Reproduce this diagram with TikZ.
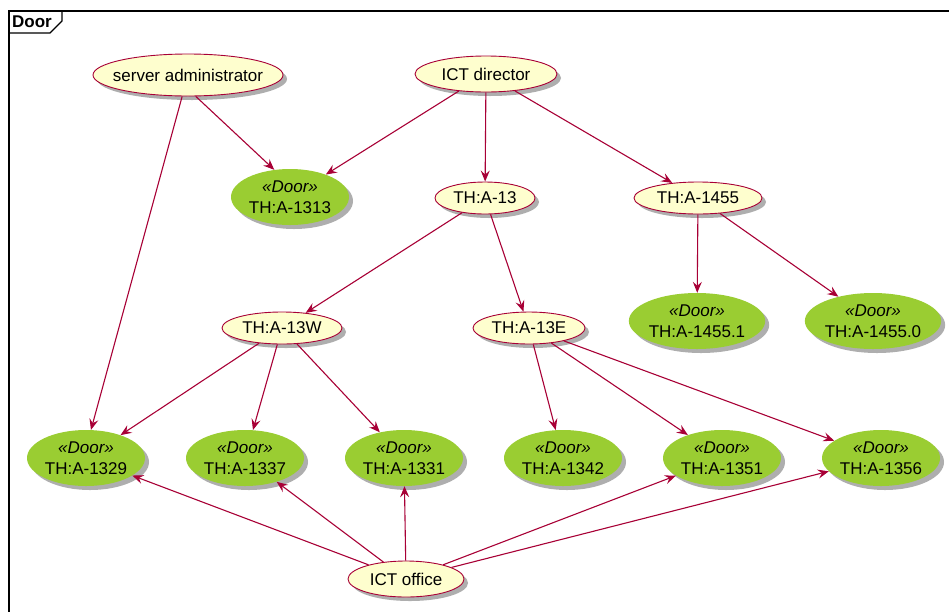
\documentclass[tikz,border=0pt]{standalone}
\usepackage{fontspec}
\setmainfont{Liberation Sans}
\usetikzlibrary{shapes.geometric,shadows,arrows.meta}
\definecolor{pred}{HTML}{A80036}
\definecolor{pyel}{HTML}{FEFECE}
\definecolor{pgreen}{HTML}{9ACD32}
\tikzset{
  shad/.style={drop shadow={shadow xshift=4pt,shadow yshift=-4pt,opacity=0.45,fill=black!70}},
  actor/.style={ellipse,draw=pred,line width=0.9pt,fill=pyel,inner sep=0pt,minimum height=36pt,font=\fontsize{17}{20}\selectfont,shad},
  door/.style={ellipse,fill=pgreen,inner sep=0pt,minimum width=118pt,minimum height=56pt,align=center,font=\fontsize{17}{21}\selectfont,shad},
  conn/.style={draw=pred,line width=1.1pt,-{Stealth[length=11pt,width=9pt,inset=4pt]}}
}
\newcommand{\dlab}[1]{{\itshape\guillemotleft Door\guillemotright}\\#1}
\begin{document}
\begin{tikzpicture}[x=1pt,y=-1pt]
\useasboundingbox (0,0) rectangle (949,611);
\fill[white] (0,0) rectangle (949,611);
% frame
\draw[line width=1.6pt] (9,620) -- (9,11) -- (960,11);
\draw[line width=1.2pt] (9,33) -- (50,33) -- (62,21) -- (62,11);
\node[anchor=west,font=\bfseries\fontsize{17}{20}\selectfont,inner sep=0pt] (flab) at (12,22) {Door};
% actors
\node[actor,minimum width=190pt,minimum height=42pt,inner xsep=-9pt] (sa) at (188,75) {server administrator};
\node[actor,minimum width=142pt] (dir) at (486,74) {ICT director};
\node[actor,minimum width=100pt,minimum height=32pt] (a13) at (485,198) {TH:A-13};
\node[actor,minimum width=128pt,minimum height=32pt] (a1455) at (698,198) {TH:A-1455};
\node[actor,minimum width=120pt,minimum height=32pt] (a13w) at (282,328) {TH:A-13W};
\node[actor,minimum width=112pt,minimum height=32pt] (a13e) at (529,328) {TH:A-13E};
\node[actor,minimum width=116pt] (off) at (406,579) {ICT office};
% doors
\node[door] (d1313) at (290,197) {\dlab{TH:A-1313}};
\node[door,minimum width=136pt] (d14551) at (697,321) {\dlab{TH:A-1455.1}};
\node[door,minimum width=136pt] (d14550) at (873,321) {\dlab{TH:A-1455.0}};
\node[door] (d1329) at (86,458) {\dlab{TH:A-1329}};
\node[door] (d1337) at (245,458) {\dlab{TH:A-1337}};
\node[door] (d1331) at (404,458) {\dlab{TH:A-1331}};
\node[door] (d1342) at (563,458) {\dlab{TH:A-1342}};
\node[door] (d1351) at (722,458) {\dlab{TH:A-1351}};
\node[door] (d1356) at (881,458) {\dlab{TH:A-1356}};
% connectors
\draw[conn] (sa) -- (d1329.80);
\draw[conn] (sa.-70) -- (d1313.120);
\draw[conn] (dir) -- (d1313);
\draw[conn] (dir) -- (a13);
\draw[conn] (dir) -- (a1455);
\draw[conn] (a13) -- (a13w);
\draw[conn] (a13) -- (a13e);
\draw[conn] (a1455) -- (d14551);
\draw[conn] (a1455) -- (d14550);
\draw[conn] (a13w) -- (d1329);
\draw[conn] (a13w) -- (d1337);
\draw[conn] (a13w) -- (d1331);
\draw[conn] (a13e) -- (d1342);
\draw[conn] (a13e) -- (d1351);
\draw[conn] (a13e) -- (d1356);
\draw[conn] (off) -- (d1329);
\draw[conn] (off) -- (d1337);
\draw[conn] (off) -- (d1331);
\draw[conn] (off) -- (d1351);
\draw[conn] (off) -- (d1356);
\end{tikzpicture}
\end{document}
